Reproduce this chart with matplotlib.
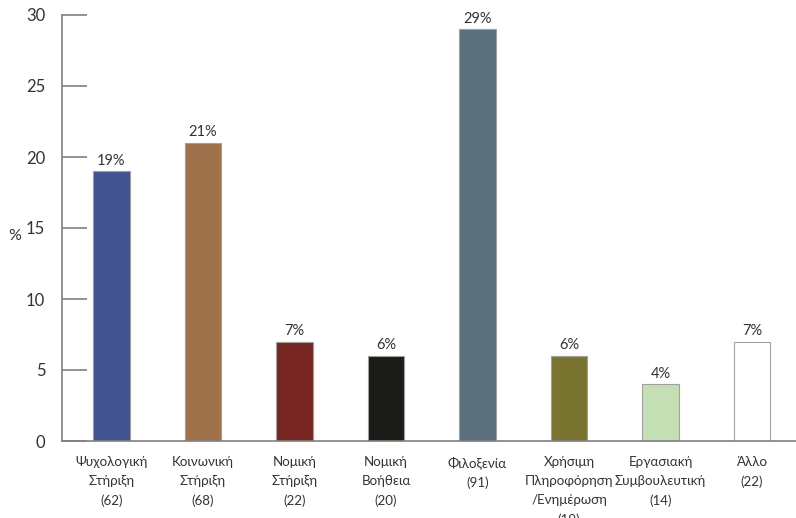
import matplotlib
matplotlib.use("Agg")
import matplotlib.pyplot as plt

categories = ["Ψυχολογική\nΣτήριξη\n(62)", "Κοινωνική\nΣτήριξη\n(68)", "Νομική\nΣτήριξη\n(22)",
              "Νομική\nΒοήθεια\n(20)", "Φιλοξενία\n(91)", "Χρήσιμη\nΠληροφόρηση\n/Ενημέρωση\n(19)",
              "Εργασιακή\nΣυμβουλευτική\n(14)", "Άλλο\n(22)"]
values = [19, 21, 7, 6, 29, 6, 4, 7]
bar_labels = ["19%", "21%", "7%", "6%", "29%", "6%", "4%", "7%"]
colors = ["#415291", "#a0724b", "#782622", "#1b1b18", "#5c6f7c", "#797530", "#c5dfb5", "#ffffff"]
yticks = [0, 5, 10, 15, 20, 25, 30]

plt.rcParams['font.family'] = ['Lato', 'DejaVu Sans']
fig = plt.figure(figsize=(7.96, 5.18), dpi=100)
ax = fig.add_axes([62/796, 77/518, 1 - 62/796, (441-15)/518])
x = list(range(len(values)))
bars = ax.bar(x, values, width=0.40, color=colors, edgecolor="#a0a0a0", linewidth=0.8, zorder=2)
for xi, v, lab in zip(x, values, bar_labels):
    ax.text(xi, v + 0.25, lab, ha="center", va="bottom", fontsize=10.5, color="#333333")
ax.set_xlim(-0.54, 7.48)
ax.set_ylim(0, 30)
ax.set_yticks(yticks)
ax.set_yticklabels([str(t) for t in yticks], fontsize=12, color="#333333")
ax.tick_params(axis="y", direction="in", length=18, width=1.2, color="#808080", pad=12)
ax.set_xticks(x)
ax.set_xticklabels(categories, fontsize=9.6, color="#333333", linespacing=1.7)
ax.tick_params(axis="x", length=0, pad=11)
for s in ["top", "right"]:
    ax.spines[s].set_visible(False)
for s in ["left", "bottom"]:
    ax.spines[s].set_color("#808080")
    ax.spines[s].set_linewidth(1.2)
fig.text(15/796, 1 - 236/518, "%", ha="center", va="center", fontsize=11.5, color="#333333")
fig.savefig("out.png", dpi=100, facecolor="white")
